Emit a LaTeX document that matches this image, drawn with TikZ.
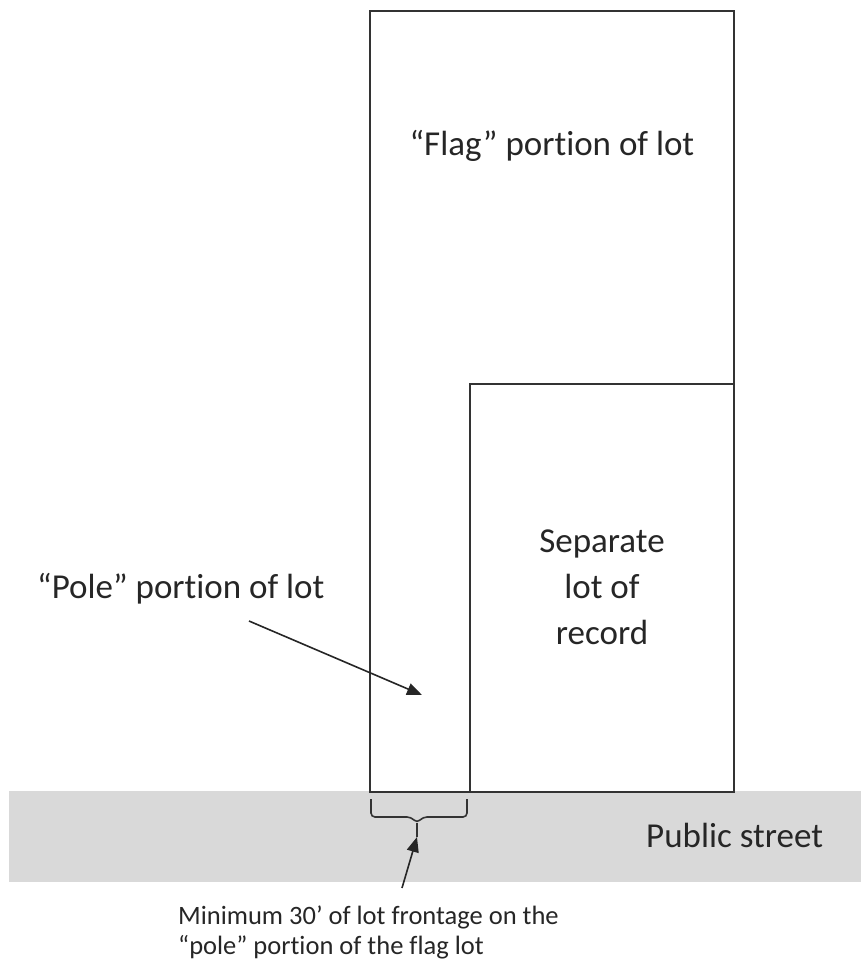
\documentclass[tikz,border=0pt]{standalone}
\usepackage{fontspec}
\setmainfont{Carlito}[Ligatures=NoCommon]
\usetikzlibrary{arrows.meta}
\definecolor{streetgray}{HTML}{D9D9D9}
\definecolor{lotline}{HTML}{333333}

\begin{document}
\begin{tikzpicture}[
  x=1pt, y=-1pt,
  lotedge/.style={draw=lotline, line width=2pt},
  biglabel/.style={font=\fontsize{35}{46}\selectfont, text=black!85,
    inner sep=0pt, align=center},
  notelabel/.style={font=\fontsize{26.5}{30}\selectfont, text=black!85,
    inner sep=0pt, align=left},
  pointer/.style={-{Triangle[length=15pt, width=12pt]}, line width=1.6pt,
    draw=black!85},
  frontbrace/.style={line width=1.6pt, draw=lotline, rounded corners=4pt},
]
  \useasboundingbox (0,0) rectangle (861,961);
  \fill[streetgray] (9,791) rectangle (861,882);

  \draw[lotedge] (370,792) -- (370,11) -- (734,11) -- (734,792) -- cycle;
  \draw[lotedge] (470,792) -- (470,384) -- (734,384);

  \node[biglabel, anchor=base] (flag) at (552,155) {“Flag” portion of lot};
  \node[biglabel] (separate) at (602,587) {Separate\\lot of\\record};
  \node[biglabel, anchor=base west] (pole) at (37,598) {“Pole” portion of lot};
  \node[biglabel, anchor=base west, font=\fontsize{35}{40}\selectfont]
    (street) at (646,847) {Public street};
  \node[notelabel, anchor=north west] (frontage) at (178,906)
    {Minimum 30’ of lot frontage on the\\“pole” portion of the flag lot};

  \coordinate (bracemid) at (417,823);
  \coordinate (bracetip) at (417,837);
  \coordinate (notetail) at (402,888);
  \coordinate (poletail) at (249,621);
  \coordinate (poletip) at (422,695);

  \draw[frontbrace] (371,799) -- (371,817) -- (411,817) -- (bracemid)
    -- (423,817) -- (467,817) -- (467,799);
  \draw[frontbrace] (bracemid) -- (bracetip);

  \draw[pointer] (poletail) -- (poletip);
  \draw[pointer] (notetail) -- (bracetip);
\end{tikzpicture}
\end{document}
